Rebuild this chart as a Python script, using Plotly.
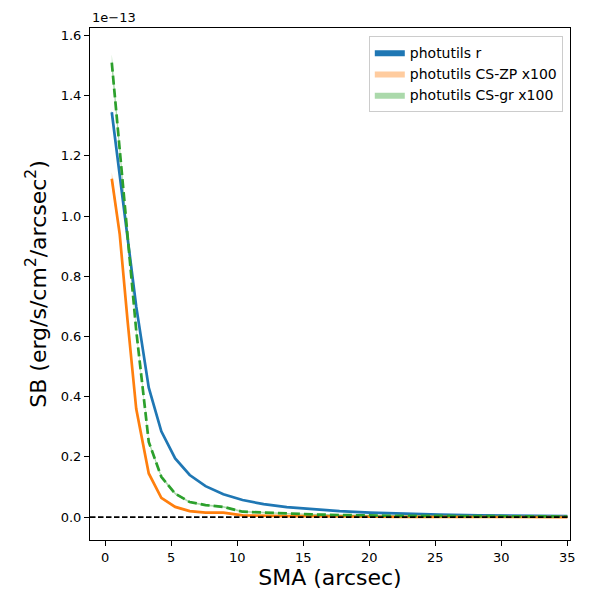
import plotly.graph_objects as go

# surface brightness profiles, in units of 1e-13 erg/s/cm^2/arcsec^2
sma = [0.5, 1.1, 1.7, 2.35, 3.3, 4.25, 5.3, 6.4, 7.6, 8.95, 10.4, 12.0, 13.75,
       15.65, 17.75, 20.05, 22.55, 25.3, 28.3, 31.6, 35.0]
sb_r = [1.345, 1.13, 0.92, 0.70, 0.43, 0.285, 0.195, 0.14, 0.103, 0.076, 0.057,
        0.043, 0.033, 0.026, 0.020, 0.015, 0.011, 0.008, 0.006, 0.004, 0.003]
sb_zp = [1.124, 0.94, 0.65, 0.36, 0.145, 0.064, 0.034, 0.020, 0.015, 0.015, 0.006,
         0.004, 0.003, 0.003, 0.002, 0.002, 0.001, 0.001, 0.001, 0.001, 0.0]
sb_gr = [1.51, 1.22, 0.92, 0.62, 0.25, 0.134, 0.078, 0.050, 0.040, 0.034, 0.018,
         0.015, 0.012, 0.009, 0.007, 0.005, 0.004, 0.004, 0.003, 0.003, 0.002]
err_r = [0.006, 0.005, 0.004, 0.003, 0.002, 0.002, 0.001, 0.001, 0.001, 0.001, 0.001,
         0.001, 0.001, 0.001, 0.001, 0.001, 0.001, 0.001, 0.001, 0.001, 0.001]
err_zp = [0.022, 0.015, 0.010, 0.007, 0.005, 0.004, 0.003, 0.003, 0.002, 0.002, 0.002,
          0.002, 0.002, 0.002, 0.002, 0.002, 0.002, 0.002, 0.002, 0.002, 0.002]
err_gr = [0.028, 0.018, 0.012, 0.008, 0.006, 0.005, 0.004, 0.003, 0.003, 0.003, 0.003,
          0.002, 0.002, 0.002, 0.002, 0.002, 0.002, 0.002, 0.002, 0.002, 0.002]

series = [
    ("photutils r", sb_r, err_r, "#1f77b4", "rgba(31,119,180,1)", "solid"),
    ("photutils CS-ZP x100", sb_zp, err_zp, "#ff7f0e", "rgba(255,127,14,0.4)", "solid"),
    ("photutils CS-gr x100", sb_gr, err_gr, "#2ca02c", "rgba(44,160,44,0.4)", "9px,4px"),
]

fig = go.Figure()
for name, y, err, col, fillcol, dash in series:
    upper = [v + e for v, e in zip(y, err)]
    lower = [v - e for v, e in zip(y, err)]
    fig.add_trace(go.Scatter(
        x=sma + sma[::-1], y=upper + lower[::-1], fill="toself",
        fillcolor=fillcol, line=dict(width=0), mode="lines",
        name=name, hoverinfo="skip",
    ))
    fig.add_trace(go.Scatter(
        x=sma, y=y, mode="lines", line=dict(color=col, width=2.7, dash=dash),
        showlegend=False,
    ))

fig.add_shape(type="line", xref="x domain", x0=0, x1=1, y0=0, y1=0,
              line=dict(color="black", width=1.6, dash="5.5px,2.5px"))

axis_style = dict(showline=True, linecolor="black", linewidth=1, mirror=True,
                  ticks="outside", ticklen=5, tickcolor="black", showgrid=False,
                  zeroline=False, automargin=False,
                  tickfont=dict(size=13, color="black"))

fig.update_xaxes(range=[-1.15, 35.2], tickvals=[0, 5, 10, 15, 20, 25, 30, 35],
                 title=dict(text="SMA (arcsec)", font=dict(size=22, color="black"), standoff=6),
                 **axis_style)
fig.update_yaxes(range=[-0.076, 1.625], tickvals=[0, 0.2, 0.4, 0.6, 0.8, 1.0, 1.2, 1.4, 1.6],
                 tickformat=".1f",
                 title=dict(text="SB (erg/s/cm<sup>2</sup>/arcsec<sup>2</sup>)",
                            font=dict(size=22, color="black"), standoff=8),
                 **axis_style)

fig.add_annotation(text="1e\u221213", xref="paper", yref="paper", x=0, y=1,
                   xanchor="left", yanchor="bottom", showarrow=False,
                   font=dict(size=13, color="black"), yshift=1)

fig.update_layout(
    width=600, height=600,
    margin=dict(l=82, r=38, t=20, b=68),
    paper_bgcolor="white", plot_bgcolor="white",
    font=dict(family="DejaVu Sans", color="black"),
    legend=dict(x=0.985, y=0.985, xanchor="right", yanchor="top",
                bordercolor="#cccccc", borderwidth=1, bgcolor="rgba(255,255,255,0.8)",
                font=dict(size=14), tracegroupgap=0),
)

fig.write_html("out.html")
